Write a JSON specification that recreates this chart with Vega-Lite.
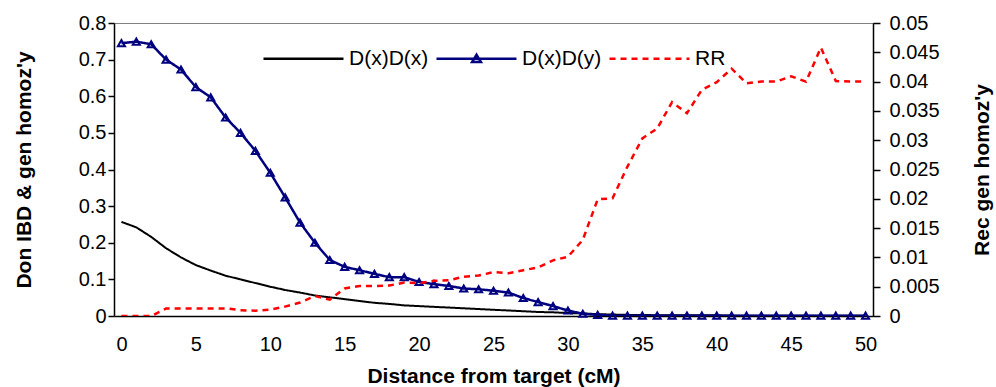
{
  "$schema": "https://vega.github.io/schema/vega-lite/v6.json",
  "width": 759,
  "height": 293,
  "autosize": {"type": "none"},
  "padding": {"left": 114, "top": 23, "right": 123, "bottom": 71},
  "config": {
    "font": "Liberation Sans",
    "view": {"stroke": "#808080", "strokeWidth": 1},
    "axis": {"grid": false, "labelFont": "Liberation Sans", "labelFontSize": 20, "labelColor": "#000", "titleFont": "Liberation Sans", "titleFontSize": 21, "titleFontWeight": "bold", "titleColor": "#000", "domainColor": "#000", "tickColor": "#000", "domainWidth": 1.5, "tickWidth": 1.5},
    "legend": {"orient": "none", "legendX": 148, "legendY": -6, "direction": "horizontal", "labelFont": "Liberation Sans", "labelFontSize": 21, "labelColor": "#000", "symbolSize": 6400, "symbolStrokeWidth": 2.5, "labelOffset": 4, "columnPadding": 2, "padding": 0}
  },
  "data": {"values": [
    {"d":0,"D(x)D(x)":0.257,"D(x)D(y)":0.745,"RR":0},
    {"d":1,"D(x)D(x)":0.242,"D(x)D(y)":0.749,"RR":0},
    {"d":2,"D(x)D(x)":0.216,"D(x)D(y)":0.742,"RR":0},
    {"d":3,"D(x)D(x)":0.185,"D(x)D(y)":0.700,"RR":0.0013},
    {"d":4,"D(x)D(x)":0.160,"D(x)D(y)":0.673,"RR":0.0013},
    {"d":5,"D(x)D(x)":0.139,"D(x)D(y)":0.625,"RR":0.0013},
    {"d":6,"D(x)D(x)":0.124,"D(x)D(y)":0.597,"RR":0.0013},
    {"d":7,"D(x)D(x)":0.110,"D(x)D(y)":0.542,"RR":0.0013},
    {"d":8,"D(x)D(x)":0.100,"D(x)D(y)":0.500,"RR":0.0010},
    {"d":9,"D(x)D(x)":0.090,"D(x)D(y)":0.451,"RR":0.0009},
    {"d":10,"D(x)D(x)":0.080,"D(x)D(y)":0.391,"RR":0.0011},
    {"d":11,"D(x)D(x)":0.071,"D(x)D(y)":0.324,"RR":0.0016},
    {"d":12,"D(x)D(x)":0.064,"D(x)D(y)":0.255,"RR":0.0023},
    {"d":13,"D(x)D(x)":0.056,"D(x)D(y)":0.200,"RR":0.0034},
    {"d":14,"D(x)D(x)":0.051,"D(x)D(y)":0.153,"RR":0.0028},
    {"d":15,"D(x)D(x)":0.046,"D(x)D(y)":0.134,"RR":0.0047},
    {"d":16,"D(x)D(x)":0.041,"D(x)D(y)":0.125,"RR":0.0051},
    {"d":17,"D(x)D(x)":0.036,"D(x)D(y)":0.115,"RR":0.0051},
    {"d":18,"D(x)D(x)":0.033,"D(x)D(y)":0.106,"RR":0.0052},
    {"d":19,"D(x)D(x)":0.029,"D(x)D(y)":0.106,"RR":0.0057},
    {"d":20,"D(x)D(x)":0.027,"D(x)D(y)":0.093,"RR":0.0056},
    {"d":21,"D(x)D(x)":0.025,"D(x)D(y)":0.087,"RR":0.0060},
    {"d":22,"D(x)D(x)":0.023,"D(x)D(y)":0.082,"RR":0.0061},
    {"d":23,"D(x)D(x)":0.021,"D(x)D(y)":0.075,"RR":0.0067},
    {"d":24,"D(x)D(x)":0.019,"D(x)D(y)":0.073,"RR":0.0069},
    {"d":25,"D(x)D(x)":0.017,"D(x)D(y)":0.069,"RR":0.0075},
    {"d":26,"D(x)D(x)":0.015,"D(x)D(y)":0.064,"RR":0.0073},
    {"d":27,"D(x)D(x)":0.013,"D(x)D(y)":0.049,"RR":0.0078},
    {"d":28,"D(x)D(x)":0.011,"D(x)D(y)":0.038,"RR":0.0083},
    {"d":29,"D(x)D(x)":0.010,"D(x)D(y)":0.027,"RR":0.0095},
    {"d":30,"D(x)D(x)":0.008,"D(x)D(y)":0.015,"RR":0.0101},
    {"d":31,"D(x)D(x)":0.007,"D(x)D(y)":0.006,"RR":0.0130},
    {"d":32,"D(x)D(x)":0.005,"D(x)D(y)":0.003,"RR":0.0199},
    {"d":33,"D(x)D(x)":0.004,"D(x)D(y)":0.001,"RR":0.0201},
    {"d":34,"D(x)D(x)":0.003,"D(x)D(y)":0.001,"RR":0.0255},
    {"d":35,"D(x)D(x)":0.003,"D(x)D(y)":0.001,"RR":0.0303},
    {"d":36,"D(x)D(x)":0.002,"D(x)D(y)":0.001,"RR":0.0320},
    {"d":37,"D(x)D(x)":0.002,"D(x)D(y)":0.001,"RR":0.0365},
    {"d":38,"D(x)D(x)":0.002,"D(x)D(y)":0.001,"RR":0.0346},
    {"d":39,"D(x)D(x)":0.002,"D(x)D(y)":0.001,"RR":0.0386},
    {"d":40,"D(x)D(x)":0.002,"D(x)D(y)":0.001,"RR":0.0399},
    {"d":41,"D(x)D(x)":0.001,"D(x)D(y)":0.001,"RR":0.0422},
    {"d":42,"D(x)D(x)":0.001,"D(x)D(y)":0.001,"RR":0.0397},
    {"d":43,"D(x)D(x)":0.001,"D(x)D(y)":0.001,"RR":0.0400},
    {"d":44,"D(x)D(x)":0.001,"D(x)D(y)":0.001,"RR":0.0400},
    {"d":45,"D(x)D(x)":0.001,"D(x)D(y)":0.001,"RR":0.0409},
    {"d":46,"D(x)D(x)":0.001,"D(x)D(y)":0.001,"RR":0.0400},
    {"d":47,"D(x)D(x)":0.001,"D(x)D(y)":0.001,"RR":0.0458},
    {"d":48,"D(x)D(x)":0.001,"D(x)D(y)":0.001,"RR":0.0401},
    {"d":49,"D(x)D(x)":0.001,"D(x)D(y)":0.001,"RR":0.0400},
    {"d":50,"D(x)D(x)":0.001,"D(x)D(y)":0.001,"RR":0.0400}
  ]},
  "layer": [
    {
      "layer": [
        {
          "transform": [{"fold": ["D(x)D(x)", "D(x)D(y)"], "as": ["series", "value"]}],
          "mark": {"type": "line", "clip": true},
          "encoding": {
            "x": {"field": "d", "type": "quantitative", "scale": {"domain": [-0.5, 50.5], "nice": false, "zero": false}, "axis": {"values": [0,5,10,15,20,25,30,35,40,45,50], "ticks": false, "labelPadding": 18, "title": "Distance from target (cM)", "titlePadding": 11}},
            "y": {"field": "value", "type": "quantitative", "scale": {"domain": [0, 0.8], "nice": false}, "axis": {"values": [0,0.1,0.2,0.3,0.4,0.5,0.6,0.7,0.8], "format": "~g", "tickSize": 6, "labelPadding": 2, "title": "Don IBD & gen homoz'y", "titlePadding": 44}},
            "color": {"field": "series", "type": "nominal", "scale": {"domain": ["D(x)D(x)", "D(x)D(y)", "RR"], "range": ["#000000", "#000080", "#ff0000"]}, "legend": {"title": null}},
            "strokeDash": {"field": "series", "type": "nominal", "scale": {"domain": ["D(x)D(x)", "D(x)D(y)", "RR"], "range": [[1, 0], [1, 0], [6, 5]]}, "legend": {"title": null}},
            "strokeWidth": {"condition": {"test": "datum.series === 'D(x)D(x)'", "value": 2}, "value": 2.5}
          }
        },
        {
          "mark": {"type": "point", "shape": "triangle-up", "filled": false, "color": "#000080", "strokeWidth": 2, "size": 50, "opacity": 1},
          "encoding": {
            "x": {"field": "d", "type": "quantitative", "scale": {"domain": [-0.5, 50.5], "nice": false, "zero": false}, "axis": {"values": [0,5,10,15,20,25,30,35,40,45,50], "ticks": false, "labelPadding": 18, "title": "Distance from target (cM)", "titlePadding": 11}},
            "y": {"field": "D(x)D(y)", "type": "quantitative", "scale": {"domain": [0, 0.8], "nice": false}, "axis": {"values": [0,0.1,0.2,0.3,0.4,0.5,0.6,0.7,0.8], "format": "~g", "tickSize": 6, "labelPadding": 2, "title": "Don IBD & gen homoz'y", "titlePadding": 44}}
          }
        },
        {
          "transform": [{"fold": ["D(x)D(x)", "D(x)D(y)", "RR"], "as": ["series", "value"]}, {"filter": "false"}],
          "mark": {"type": "point", "filled": false, "opacity": 1},
          "encoding": {
            "x": {"field": "d", "type": "quantitative", "scale": {"domain": [-0.5, 50.5], "nice": false, "zero": false}, "axis": {"values": [0,5,10,15,20,25,30,35,40,45,50], "ticks": false, "labelPadding": 18, "title": "Distance from target (cM)", "titlePadding": 11}},
            "y": {"field": "value", "type": "quantitative", "scale": {"domain": [0, 0.8], "nice": false}, "axis": {"values": [0,0.1,0.2,0.3,0.4,0.5,0.6,0.7,0.8], "format": "~g", "tickSize": 6, "labelPadding": 2, "title": "Don IBD & gen homoz'y", "titlePadding": 44}},
            "shape": {"field": "series", "type": "nominal", "scale": {"domain": ["D(x)D(x)", "D(x)D(y)", "RR"], "range": ["M-1,0L1,0", "M-1,0L1,0M0,-0.1L0.11,0.08L-0.11,0.08Z", "M-1,0L1,0"]}, "legend": {"title": null}}
          }
        }
      ]
    },
    {
      "transform": [{"fold": ["RR"], "as": ["series", "value"]}],
      "mark": {"type": "line", "clip": true, "strokeWidth": 2.5},
      "encoding": {
        "x": {"field": "d", "type": "quantitative", "scale": {"domain": [-0.5, 50.5], "nice": false, "zero": false}, "axis": {"values": [0,5,10,15,20,25,30,35,40,45,50], "ticks": false, "labelPadding": 18, "title": "Distance from target (cM)", "titlePadding": 11}},
        "y": {"field": "value", "type": "quantitative", "scale": {"domain": [0, 0.05], "nice": false}, "axis": {"orient": "right", "values": [0,0.005,0.01,0.015,0.02,0.025,0.03,0.035,0.04,0.045,0.05], "format": "~g", "tickSize": 7, "labelPadding": 9, "title": "Rec gen homoz'y", "titleAngle": 270, "titlePadding": 53}},
        "color": {"field": "series", "type": "nominal", "scale": {"domain": ["D(x)D(x)", "D(x)D(y)", "RR"], "range": ["#000000", "#000080", "#ff0000"]}, "legend": {"title": null}},
        "strokeDash": {"field": "series", "type": "nominal", "scale": {"domain": ["D(x)D(x)", "D(x)D(y)", "RR"], "range": [[1, 0], [1, 0], [6, 5]]}, "legend": {"title": null}}
      }
    }
  ],
  "resolve": {"scale": {"y": "independent"}}
}
